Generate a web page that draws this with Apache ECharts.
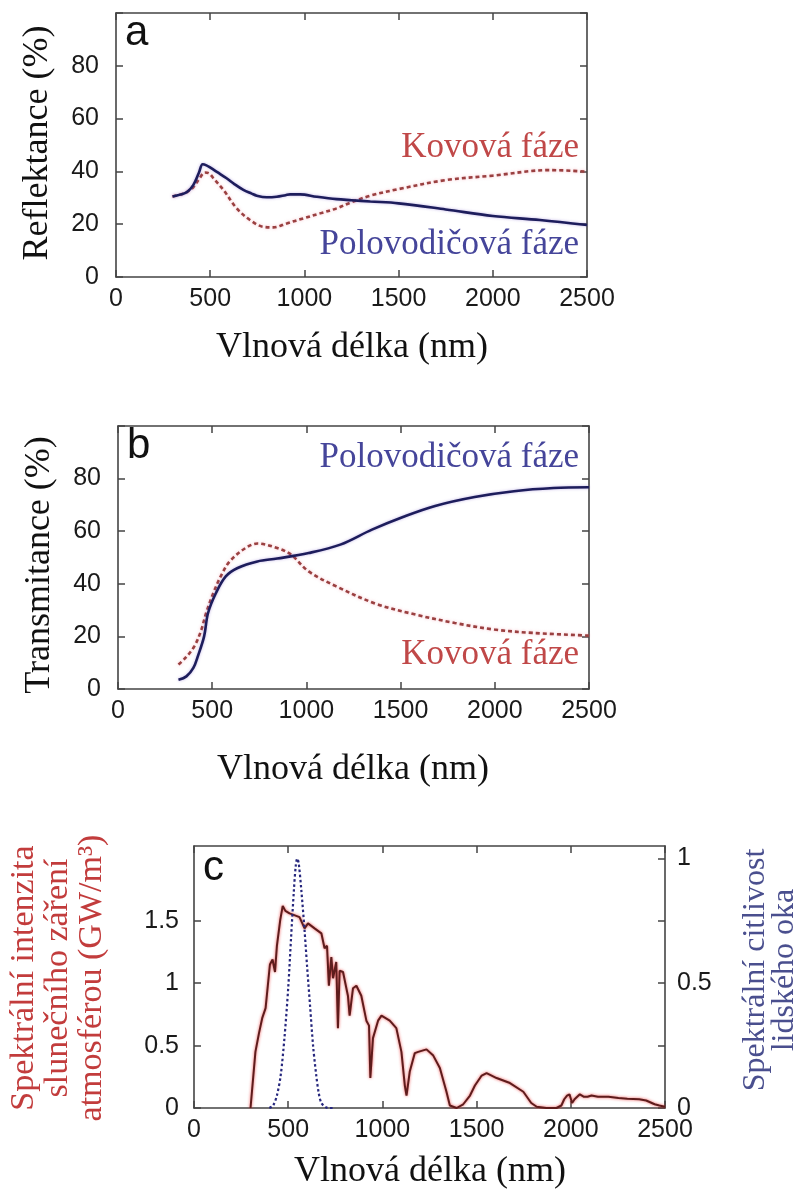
<!DOCTYPE html>
<html>
<head>
<meta charset="utf-8">
<script src="https://cdn.jsdelivr.net/npm/echarts@6/dist/echarts.min.js"></script>
<style>
  html, body { margin: 0; padding: 0; background: #ffffff; }
  #chart { width: 808px; height: 1200px; }
</style>
</head>
<body>
<div id="chart"></div>
<script>
// ---- Panel a: reflectance (%) vs wavelength (nm) ----
const reflWave   = [300, 340, 377, 410, 440, 460, 480, 499, 540, 587, 630, 676, 720, 747, 800, 853, 900, 924, 977, 1065, 1171, 1251, 1350, 1500, 1750, 2000, 2250, 2500];
const reflSemi   = [30.5, 31.2, 32.2, 34.8, 39.5, 42.7, 42.3, 41.5, 39.6, 37.4, 35.1, 33.0, 31.6, 30.8, 30.2, 30.4, 31.0, 31.3, 31.3, 30.4, 29.5, 29.1, 28.6, 27.9, 25.6, 23.1, 21.6, 19.7];
const reflMetalWave = [300, 340, 377, 410, 440, 472, 495, 517, 570, 641, 711, 782, 835, 906, 994, 1083, 1171, 1242, 1350, 1500, 1750, 2000, 2300, 2500];
const reflMetal     = [30.5, 31.2, 32.2, 34.0, 37.0, 39.6, 39.2, 37.4, 33.0, 26.0, 21.6, 19.0, 18.8, 20.3, 22.2, 24.1, 26.0, 28.1, 30.8, 33.3, 36.7, 38.4, 40.5, 39.9];

// ---- Panel b: transmittance (%) vs wavelength (nm) ----
const transWave  = [321, 363, 400, 425, 457, 478, 520, 572, 635, 740, 845, 1012, 1180, 1348, 1516, 1683, 1893, 2102, 2312, 2500];
const transSemi  = [3.5, 4.8, 8.0, 12.7, 20.0, 28.9, 36.5, 42.8, 46.0, 48.5, 49.6, 51.7, 54.9, 60.6, 65.5, 69.6, 73.0, 75.2, 76.4, 76.7];
const transMetalWave = [321, 360, 405, 440, 468, 509, 550, 593, 677, 740, 845, 918, 1012, 1159, 1369, 1579, 1788, 1998, 2207, 2500];
const transMetal     = [9.3, 12.0, 16.2, 22.0, 28.9, 37.0, 43.5, 48.5, 53.6, 55.3, 53.6, 51.1, 44.7, 39.0, 32.4, 28.3, 25.1, 22.6, 21.3, 20.3];

// ---- Panel c: solar spectral intensity (GW/m³) and eye sensitivity ----
const solarWave = [300, 326, 345, 362, 380, 403, 417, 430, 440, 458, 471, 485, 507, 525, 560, 587, 605, 640, 676, 693, 706, 716, 729, 738, 755, 764, 773, 791, 817, 826, 844, 862, 888, 915, 929, 936, 950, 977, 995, 1039, 1074, 1101, 1119, 1128, 1145, 1172, 1190, 1234, 1270, 1305, 1340, 1358, 1394, 1429, 1465, 1491, 1527, 1553, 1606, 1677, 1748, 1790, 1819, 1870, 1924, 1950, 1965, 1980, 1993, 2007, 2020, 2048, 2070, 2089, 2110, 2144, 2200, 2253, 2300, 2363, 2400, 2445, 2470, 2500];
const solarIntensity = [0, 0.45, 0.60, 0.72, 0.80, 1.15, 1.19, 1.09, 1.30, 1.51, 1.62, 1.58, 1.56, 1.55, 1.53, 1.44, 1.48, 1.44, 1.40, 1.28, 1.30, 0.98, 1.21, 1.04, 1.17, 0.64, 1.10, 1.09, 0.90, 0.74, 0.96, 0.98, 0.90, 0.70, 0.66, 0.24, 0.56, 0.70, 0.74, 0.70, 0.64, 0.45, 0.18, 0.10, 0.29, 0.44, 0.45, 0.47, 0.42, 0.32, 0.13, 0.02, 0, 0.03, 0.10, 0.18, 0.26, 0.28, 0.24, 0.20, 0.13, 0.04, 0.01, 0, 0, 0.02, 0.07, 0.10, 0.11, 0.04, 0.07, 0.11, 0.09, 0.09, 0.10, 0.09, 0.09, 0.08, 0.075, 0.07, 0.06, 0.03, 0.02, 0.01];
const eyeWave = [400, 420, 440, 460, 480, 500, 515, 530, 540, 548, 556, 570, 587, 600, 617, 632, 649, 662, 676, 700, 720, 745];
const eyeSensitivity = [0, 0.01, 0.05, 0.13, 0.28, 0.48, 0.68, 0.87, 0.97, 1.0, 0.98, 0.87, 0.71, 0.57, 0.40, 0.25, 0.13, 0.06, 0.02, 0.003, 0, 0];

// tick labels
const wavelengthTicks = [0, 500, 1000, 1500, 2000, 2500];
const percentTicks = [0, 20, 40, 60, 80];
const intensityTicks = [0, 0.5, 1, 1.5];
const sensitivityTicks = [0, 0.5, 1];

const pairs = (xs, ys) => xs.map((x, i) => [x, ys[i]]);
const plain = v => String(v);

const SANS = '"Liberation Sans", Arial, sans-serif';
const SERIF = '"Liberation Serif", "Times New Roman", serif';
const AXIS_COLOR = '#444';
const BLUE_LINE = '#1d1d5c';
const RED_DOT = '#9a4040';
const RED_TEXT = '#c04848';
const BLUE_TEXT = '#45459a';

const grids = [
  { left: 116, top: 13, width: 471, height: 264 },
  { left: 118, top: 426, width: 471, height: 263 },
  { left: 194, top: 846, width: 471, height: 262 }
];

const tick = { show: true, inside: true, length: 7, lineStyle: { color: AXIS_COLOR, width: 1.5 } };
const line = { show: true, onZero: false, lineStyle: { color: AXIS_COLOR, width: 1.6 } };
const label = { fontFamily: SANS, fontSize: 25, color: '#1a1a1a', formatter: plain };

function xPair(g) {
  return [
    { type: 'value', gridIndex: g, position: 'bottom', min: 0, max: 2500, interval: 500,
      axisLine: line, axisTick: tick, splitLine: { show: false },
      axisLabel: Object.assign({ margin: 10, customValues: wavelengthTicks }, label) },
    { type: 'value', gridIndex: g, position: 'top', min: 0, max: 2500, interval: 500,
      axisLine: line, axisTick: tick, splitLine: { show: false }, axisLabel: { show: false } }
  ];
}

const xAxis = [].concat(xPair(0), xPair(1), xPair(2));

const yAxis = [
  // a
  { type: 'value', gridIndex: 0, position: 'left', min: 0, max: 100, interval: 20,
    axisLine: line, axisTick: tick, splitLine: { show: false },
    axisLabel: Object.assign({ margin: 17, customValues: percentTicks }, label) },
  { type: 'value', gridIndex: 0, position: 'right', min: 0, max: 100, interval: 20,
    axisLine: line, axisTick: tick, splitLine: { show: false }, axisLabel: { show: false } },
  // b
  { type: 'value', gridIndex: 1, position: 'left', min: 0, max: 100, interval: 20,
    axisLine: line, axisTick: tick, splitLine: { show: false },
    axisLabel: Object.assign({ margin: 17, customValues: percentTicks }, label) },
  { type: 'value', gridIndex: 1, position: 'right', min: 0, max: 100, interval: 20,
    axisLine: line, axisTick: tick, splitLine: { show: false }, axisLabel: { show: false } },
  // c: left = solar intensity, right = eye sensitivity
  { type: 'value', gridIndex: 2, position: 'left', min: 0, max: 2.1, interval: 0.5,
    axisLine: line, axisTick: Object.assign({ customValues: intensityTicks }, tick), splitLine: { show: false },
    axisLabel: Object.assign({ margin: 15, customValues: intensityTicks }, label) },
  { type: 'value', gridIndex: 2, position: 'right', min: 0, max: 1.05, interval: 0.25,
    axisLine: line, axisTick: Object.assign({ customValues: [0, 0.25, 0.5, 0.75, 1] }, tick), splitLine: { show: false },
    axisLabel: Object.assign({ margin: 12, customValues: sensitivityTicks }, label) }
];

const halo = (c, b) => ({ shadowColor: c, shadowBlur: b });

const series = [
  { name: 'Polovodičová fáze', type: 'line', xAxisIndex: 0, yAxisIndex: 0, data: pairs(reflWave, reflSemi),
    showSymbol: false, smooth: 0.35, z: 3,
    lineStyle: Object.assign({ color: BLUE_LINE, width: 2.6 }, halo('rgba(120,90,200,0.45)', 3)) },
  { name: 'Kovová fáze', type: 'line', xAxisIndex: 0, yAxisIndex: 0, data: pairs(reflMetalWave, reflMetal),
    showSymbol: false, smooth: 0.35, z: 2,
    lineStyle: Object.assign({ color: RED_DOT, width: 2.6, type: [4, 3] }, halo('rgba(240,120,140,0.5)', 3)) },
  { name: 'Polovodičová fáze', type: 'line', xAxisIndex: 2, yAxisIndex: 2, data: pairs(transWave, transSemi),
    showSymbol: false, smooth: 0.35, z: 3,
    lineStyle: Object.assign({ color: BLUE_LINE, width: 2.6 }, halo('rgba(120,90,200,0.45)', 3)) },
  { name: 'Kovová fáze', type: 'line', xAxisIndex: 2, yAxisIndex: 2, data: pairs(transMetalWave, transMetal),
    showSymbol: false, smooth: 0.35, z: 2,
    lineStyle: Object.assign({ color: RED_DOT, width: 2.6, type: [4, 3] }, halo('rgba(240,120,140,0.5)', 3)) },
  { name: 'Sluneční záření', type: 'line', xAxisIndex: 4, yAxisIndex: 4, data: pairs(solarWave, solarIntensity),
    showSymbol: false, z: 2,
    lineStyle: Object.assign({ color: '#5e1c1c', width: 2 }, halo('rgba(235,40,40,0.8)', 3)) },
  { name: 'Citlivost oka', type: 'line', xAxisIndex: 4, yAxisIndex: 5, data: pairs(eyeWave, eyeSensitivity),
    showSymbol: false, smooth: 0.3, z: 3,
    lineStyle: { color: '#27287e', width: 2.2, type: [2.5, 2.5] } }
];

function txt(x, y, text, font, fill, opts) {
  return Object.assign({
    type: 'text', x: x, y: y, silent: true,
    style: Object.assign({ text: text, font: font, fill: fill, align: 'center', verticalAlign: 'middle' }, (opts && opts.style) || {})
  }, (opts && opts.el) || {});
}

const TITLE = '36px ' + SERIF;
const PHASE = '35px ' + SERIF;
const LETTER = '42px ' + SANS;
const ROT = Math.PI / 2;

const graphic = [
  // panel letters
  txt(125, 33, 'a', LETTER, '#111', { style: { align: 'left' } }),
  txt(127, 446, 'b', LETTER, '#111', { style: { align: 'left' } }),
  txt(203, 868, 'c', LETTER, '#111', { style: { align: 'left' } }),
  // axis titles, panel a
  txt(352, 348, 'Vlnová délka (nm)', TITLE, '#111'),
  txt(38, 143, 'Reflektance (%)', TITLE, '#111', { el: { rotation: ROT } }),
  txt(579, 148, 'Kovová fáze', PHASE, RED_TEXT, { style: { align: 'right' } }),
  txt(579, 245, 'Polovodičová fáze', PHASE, BLUE_TEXT, { style: { align: 'right' } }),
  // panel b
  txt(353, 770, 'Vlnová délka (nm)', TITLE, '#111'),
  txt(40, 565, 'Transmitance (%)', TITLE, '#111', { el: { rotation: ROT } }),
  txt(579, 458, 'Polovodičová fáze', PHASE, BLUE_TEXT, { style: { align: 'right' } }),
  txt(579, 655, 'Kovová fáze', PHASE, RED_TEXT, { style: { align: 'right' } }),
  // panel c
  txt(430, 1172, 'Vlnová délka (nm)', TITLE, '#111'),
  txt(58, 978, 'Spektrální intenzita\nslunečního záření\natmosférou (GW/m³)', '34px ' + SERIF, '#c23c3c',
      { el: { rotation: ROT }, style: { lineHeight: 34 } }),
  txt(770, 970, 'Spektrální citlivost\nlidského oka', '32px ' + SERIF, '#4a4f8e',
      { el: { rotation: ROT }, style: { lineHeight: 29 } })
];

const chart = echarts.init(document.getElementById('chart'), null, { renderer: 'canvas' });
chart.setOption({
  animation: false,
  backgroundColor: '#ffffff',
  grid: grids,
  xAxis: xAxis,
  yAxis: yAxis,
  series: series,
  graphic: graphic
});
</script>
</body>
</html>
